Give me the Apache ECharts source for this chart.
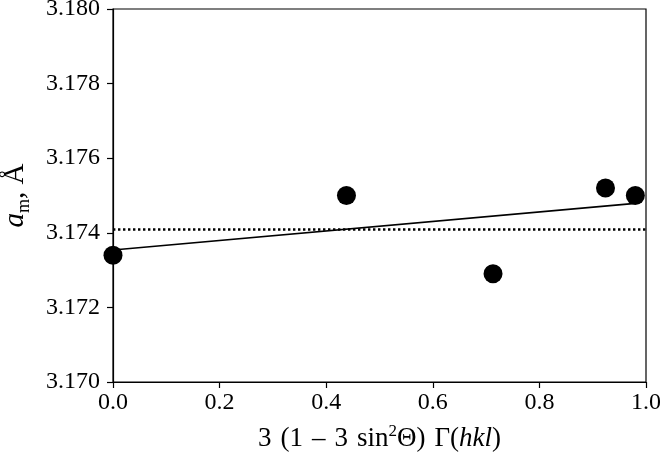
<!DOCTYPE html>
<html>
<head>
<meta charset="utf-8">
<script src="https://cdn.jsdelivr.net/npm/echarts@6/dist/echarts.min.js"></script>
<style>
  html, body { margin: 0; padding: 0; background: #fff; }
  #chart { width: 660px; height: 453px; }
</style>
</head>
<body>
<div id="chart"></div>
<script>
// measured points (x, a_m)
const xVals = [0.0, 0.438, 0.713, 0.924, 0.980]
const amVals = [3.1734, 3.1750, 3.1729, 3.1752, 3.1750]
// linear fit ends and mean value
const fitX = [0.0, 0.980]
const fitY = [3.17354, 3.17479]
const meanX = [0.0, 1.0]
const meanY = [3.17409, 3.17409]

const font = 'Liberation Serif'

const chart = echarts.init(document.getElementById('chart'))

const pts = xVals.map((x, i) => [x, amVals[i]])
const fitPts = fitX.map((x, i) => [x, fitY[i]])
const meanPts = meanX.map((x, i) => [x, meanY[i]])

const option = {
  animation: false,
  grid: {
    left: 113, right: 14, top: 9, bottom: 71,
    outerBoundsMode: 'none',
    show: true, borderColor: '#000', borderWidth: 1.2
  },
  xAxis: {
    type: 'value', min: 0, max: 1, interval: 0.2,
    // wider spaces, like the original typesetting
    name: '3\u2004(1\u2004–\u20043\u2004sin{sup|2}Θ)\u2004Γ({it|hkl})',
    nameLocation: 'middle', nameGap: 41,
    nameTextStyle: {
      fontFamily: font, fontSize: 27, color: '#000',
      rich: {
        sup: { fontFamily: font, fontSize: 17, color: '#000', padding: [0, 0, 15, 0] },
        it: { fontFamily: font, fontSize: 27, fontStyle: 'italic', color: '#000' }
      }
    },
    axisLine: { lineStyle: { color: '#000', width: 1.2 } },
    axisTick: { show: true, length: 6, lineStyle: { color: '#000', width: 1.2 } },
    axisLabel: { fontFamily: font, fontSize: 24, color: '#000', margin: 9,
      formatter: v => v.toFixed(1) },
    splitLine: { show: false }
  },
  yAxis: {
    type: 'value', min: 3.170, max: 3.180, interval: 0.002,
    name: '{it|a}{sub|m}, Å',
    nameLocation: 'middle', nameGap: 80, nameRotate: 90,
    nameTextStyle: {
      fontFamily: font, fontSize: 29, color: '#000',
      rich: {
        it: { fontFamily: font, fontSize: 29, fontStyle: 'italic', color: '#000' },
        sub: { fontFamily: font, fontSize: 18, color: '#000', padding: [18, 0, 0, 0] }
      }
    },
    axisLine: { show: true, lineStyle: { color: '#000', width: 1.2 } },
    axisTick: { show: true, length: 6, lineStyle: { color: '#000', width: 1.2 } },
    axisLabel: { fontFamily: font, fontSize: 24, color: '#000', margin: 13,
      formatter: v => v.toFixed(3) },
    splitLine: { show: false }
  },
  series: [
    {
      type: 'line', data: meanPts, symbol: 'none',
      lineStyle: { color: '#000', width: 2.4, type: [2.4, 2.6] }, z: 2
    },
    {
      type: 'line', data: fitPts, symbol: 'none',
      lineStyle: { color: '#000', width: 1.6 }, z: 3
    },
    {
      type: 'scatter', data: pts, symbol: 'circle', symbolSize: 19,
      itemStyle: { color: '#000', opacity: 1 }, clip: false, z: 4
    }
  ]
}

chart.setOption(option)
</script>
</body>
</html>
